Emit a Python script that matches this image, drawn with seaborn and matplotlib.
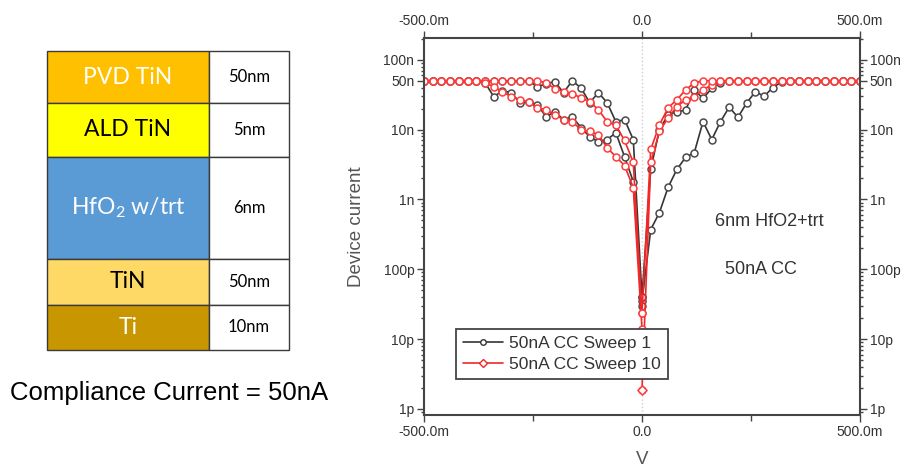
import matplotlib
matplotlib.use("Agg")
import matplotlib.pyplot as plt
import seaborn as sns
import pandas as pd
from matplotlib.lines import Line2D
from matplotlib.patches import Rectangle
from matplotlib.ticker import FixedLocator, LogLocator, NullFormatter

# ---------------- data ----------------
V_POS = [0.00, 0.02, 0.04, 0.06, 0.08, 0.10, 0.12, 0.14, 0.16, 0.18, 0.20, 0.22, 0.24,
         0.26, 0.28, 0.30, 0.32, 0.34, 0.36, 0.38, 0.40, 0.42, 0.44, 0.46, 0.48, 0.50]
V_NEG = [0.00, -0.02, -0.04, -0.06, -0.08, -0.10, -0.12, -0.14, -0.16, -0.18, -0.20, -0.22, -0.24,
         -0.26, -0.28, -0.30, -0.32, -0.34, -0.36, -0.38, -0.40, -0.42, -0.44, -0.46, -0.48, -0.50]

# currents in nA, listed along V_POS / V_NEG
S1_POS_LO = [0.035, 0.37, 0.65, 1.5, 2.7, 4.0, 4.7, 13, 7.2, 13, 21, 15, 24, 35, 30, 40, 48,
             50, 50, 50, 50, 50, 50, 50, 50, 50]
S1_POS_HI = [0.04, 2.7, 10, 16.4, 18, 19, 37, 28, 39, 47, 50, 50, 50, 50, 50, 50, 50,
             50, 50, 50, 50, 50, 50, 50, 50, 50]
S1_NEG_HI = [0.04, 7.2, 13.9, 13, 24.3, 33.8, 24.3, 39.6, 50, 33.8, 48.5, 45.5, 41,
             50, 50, 50, 50, 50, 50, 50, 50, 50, 50, 50, 50, 50]
S1_NEG_LO = [0.03, 1.8, 4.1, 9.0, 7.2, 6.7, 7.9, 10.7, 15.3, 13.9, 18, 15.3, 22.7,
             25, 24.3, 33.8, 36, 29.6, 47, 50, 50, 50, 50, 50, 50, 50]

S10_POS_LO = [0.0019, 3.4, 9.4, 14.8, 21.3, 26.8, 29.6, 37, 44, 50, 50, 50, 50,
              50, 50, 50, 50, 50, 50, 50, 50, 50, 50, 50, 50, 50]
S10_POS_HI = [0.024, 5.2, 11.7, 20.6, 26.8, 37, 46.8, 50, 50, 50, 50, 50, 50,
              50, 50, 50, 50, 50, 50, 50, 50, 50, 50, 50, 50, 50]
S10_NEG_HI = [0.024, 3.4, 7.0, 11.5, 13, 19.3, 25, 28.6, 32.6, 35, 38.5, 47, 50,
              50, 50, 50, 50, 50, 50, 50, 50, 50, 50, 50, 50, 50]
S10_NEG_LO = [0.014, 1.48, 3.06, 4.1, 5.5, 8.5, 9.4, 10, 13, 13.9, 16.4, 19.3, 20.6,
              25, 26.8, 29.6, 34.9, 41, 47, 50, 50, 50, 50, 50, 50, 50]

SERIES_LABELS = ["50nA CC Sweep 1", "50nA CC Sweep 10"]
Y_TICKS = [1e-12, 1e-11, 1e-10, 1e-9, 1e-8, 5e-8, 1e-7]
Y_TICK_LABELS = ["1p", "10p", "100p", "1n", "10n", "50n", "100n"]
X_TICKS = [-0.5, 0.0, 0.5]
X_TICK_LABELS = ["-500.0m", "0.0", "500.0m"]

LAYERS = ["PVD TiN", "ALD TiN", "HfO$_2$ w/trt", "TiN", "Ti"]
THICKNESS = ["50nm", "5nm", "6nm", "50nm", "10nm"]
LAYER_COLORS = ["#FFC000", "#FFFF00", "#5B9BD5", "#FFD966", "#C89600"]
LAYER_TEXT = ["white", "black", "white", "black", "white"]

# ---------------- style ----------------
sns.set_style("ticks")
plt.rcParams["font.family"] = ["Liberation Sans", "DejaVu Sans"]
plt.rcParams["mathtext.fontset"] = "custom"
plt.rcParams["mathtext.rm"] = "Lato"
plt.rcParams["mathtext.default"] = "regular"

W, H = 906, 470
fig = plt.figure(figsize=(W / 100, H / 100), dpi=100)

# ---------------- left stack table ----------------
tab = fig.add_axes([0, 0, 1, 1])
tab.set_xlim(0, W)
tab.set_ylim(H, 0)
tab.axis("off")
row_edges = [51, 103, 157, 259, 305, 350]
x_l, x_m, x_r = 47, 209, 289
for i in range(5):
    y0, y1 = row_edges[i], row_edges[i + 1]
    tab.add_patch(Rectangle((x_l, y0), x_m - x_l, y1 - y0, facecolor=LAYER_COLORS[i],
                            edgecolor="#3a3a3a", lw=1.0))
    tab.add_patch(Rectangle((x_m, y0), x_r - x_m, y1 - y0, facecolor="white",
                            edgecolor="#3a3a3a", lw=1.0))
    tab.text((x_l + x_m) / 2, (y0 + y1) / 2, LAYERS[i], color=LAYER_TEXT[i],
             ha="center", va="center", fontsize=16.5, family=["Lato", "DejaVu Sans"])
    tab.text((x_m + x_r) / 2, (y0 + y1) / 2, THICKNESS[i], color="black",
             ha="center", va="center", fontsize=12, family=["Lato", "DejaVu Sans"])
tab.text(10, 393, "Compliance Current = 50nA", ha="left", va="center",
         fontsize=18.5, color="black")

# ---------------- IV chart ----------------
ax = fig.add_axes([424 / W, 1 - 415 / H, 436 / W, 377 / H])

BLACK = "#353535"
RED = "#f02828"


def sweep_frame(pos_lo, pos_hi, neg_hi, neg_lo):
    v = V_POS + V_POS[::-1] + V_NEG + V_NEG[::-1]
    i = pos_lo + pos_hi[::-1] + neg_hi + neg_lo[::-1]
    return pd.DataFrame({"V": v, "I": [c * 1e-9 for c in i]})


ax.axvline(0, color="#cfcfcf", ls=":", lw=1.0, zorder=0)

for df, col, mcol in [
    (sweep_frame(S1_POS_LO, S1_POS_HI, S1_NEG_HI, S1_NEG_LO), BLACK, "#4a4a4a"),
    (sweep_frame(S10_POS_LO, S10_POS_HI, S10_NEG_HI, S10_NEG_LO), RED, "#ff3c3c"),
]:
    sns.lineplot(data=df, x="V", y="I", sort=False, estimator=None, ax=ax,
                 color=col, lw=1.2, marker="o", markersize=5,
                 markerfacecolor="white", markeredgecolor=mcol, markeredgewidth=1.1)

sns.scatterplot(x=[V_POS[0]], y=[S10_POS_LO[0] * 1e-9], marker="D", s=22,
                facecolor="white", edgecolor="#ff3c3c", linewidth=1.1, ax=ax, zorder=5)

ax.set_yscale("log")
ax.set_xlim(-0.5, 0.5)
ax.set_ylim(0.82e-12, 2.05e-7)

ax.yaxis.set_major_locator(FixedLocator(Y_TICKS))
ax.set_yticklabels(Y_TICK_LABELS)
ax.yaxis.set_minor_locator(LogLocator(base=10, subs=[2, 3, 4, 5, 6, 7, 8, 9], numticks=20))
ax.yaxis.set_minor_formatter(NullFormatter())
ax.xaxis.set_major_locator(FixedLocator(X_TICKS))
ax.set_xticklabels(X_TICK_LABELS)
ax.xaxis.set_minor_locator(FixedLocator([-0.25, 0.25]))

ax.tick_params(axis="both", which="both", direction="out", colors="#444",
               labelcolor="#333", labelsize=10, top=True, right=True,
               labeltop=True, labelright=True, width=1.0)
ax.tick_params(axis="both", which="major", length=5, pad=2)
ax.tick_params(axis="both", which="minor", length=2.5)
ax.tick_params(axis="x", which="minor", length=4)
for s in ax.spines.values():
    s.set_color("#444")
    s.set_linewidth(1.5)
    s.set_visible(True)

ax.set_xlabel("")
ax.set_ylabel("Device current", fontsize=13.5, color="#555")
ax.yaxis.set_label_coords((365 - 424) / 436, 0.5)
fig.text(642 / W, 1 - 451 / H, "V", ha="center", va="top", fontsize=13.5, color="#555")

ax.text((715 - 424) / 436, (415 - 222) / 377, "6nm HfO2+trt", transform=ax.transAxes,
        ha="left", va="center", fontsize=13, color="#333")
ax.text((725 - 424) / 436, (415 - 270) / 377, "50nA CC", transform=ax.transAxes,
        ha="left", va="center", fontsize=13, color="#333")

handles = [
    Line2D([], [], color=BLACK, lw=1.2, marker="o", markersize=4,
           markerfacecolor="white", markeredgecolor=BLACK),
    Line2D([], [], color=RED, lw=1.2, marker="D", markersize=4,
           markerfacecolor="white", markeredgecolor=RED),
]
leg = ax.legend(handles, SERIES_LABELS, loc="upper left",
                bbox_to_anchor=((456 - 424) / 436, (415 - 329) / 377),
                borderaxespad=0, frameon=True, fancybox=False, framealpha=1,
                edgecolor="#444", fontsize=12.5, handlelength=2.3, handletextpad=0.35,
                borderpad=0.42, labelspacing=0.32)
leg.get_frame().set_linewidth(1.3)
for t in leg.get_texts():
    t.set_color("#333")

fig.savefig("out.png", dpi=100)
